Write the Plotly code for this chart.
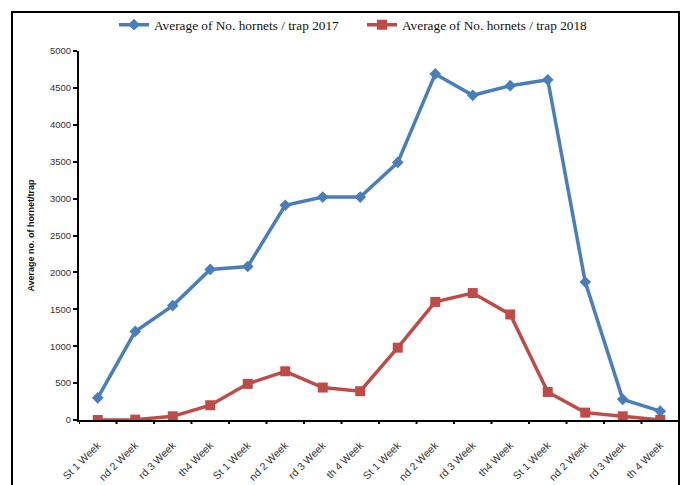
import plotly.graph_objects as go

# Weekly categories (four weeks per month, four months)
weeks = ["St 1 Week", "nd 2 Week", "rd 3 Week", "th4 Week",
         "St 1 Week", "nd 2 Week", "rd 3 Week", "th 4 Week",
         "St 1 Week", "nd 2 Week", "rd 3 Week", "th4 Week",
         "St 1 Week", "nd 2 Week", "rd 3 Week", "th 4 Week"]
x_idx = list(range(len(weeks)))

hornets_2017 = [300, 1200, 1550, 2040, 2080, 2910, 3020, 3020,
                3490, 4690, 4400, 4530, 4610, 1870, 280, 120]
hornets_2018 = [0, 5, 50, 200, 490, 660, 440, 390,
                980, 1600, 1720, 1430, 380, 100, 50, 0]

y_ticks = [0, 500, 1000, 1500, 2000, 2500, 3000, 3500, 4000, 4500, 5000]

BLUE = "#4A7EBB"
RED = "#BE4B48"

fig = go.Figure()
fig.add_trace(go.Scatter(
    x=x_idx, y=hornets_2017, mode="lines+markers",
    name="Average of No. hornets / trap 2017",
    line=dict(color=BLUE, width=3.5),
    marker=dict(symbol="diamond", size=9, color=BLUE),
))
fig.add_trace(go.Scatter(
    x=x_idx, y=hornets_2018, mode="lines+markers",
    name="Average of No. hornets / trap 2018",
    line=dict(color=RED, width=3.5),
    marker=dict(symbol="square", size=10, color=RED),
))

W, H = 683, 485
L, R, T, B = 79, 4, 51, 65
pw, ph = W - L - R, H - T - B

def px_x(p):
    return (p - L) / pw

def px_y(p):
    return (H - B - p) / ph

# Outer frame around the whole chart
fig.add_shape(type="rect", xref="paper", yref="paper",
              x0=px_x(12), x1=px_x(679), y0=px_y(495), y1=px_y(12),
              line=dict(color="black", width=2), fillcolor="rgba(0,0,0,0)",
              layer="above")

fig.update_layout(
    width=W, height=H,
    margin=dict(l=L, r=R, t=T, b=B, autoexpand=False),
    paper_bgcolor="white", plot_bgcolor="white",
    showlegend=True,
    legend=dict(orientation="h", x=px_x(114), xanchor="left",
                y=px_y(25), yanchor="middle",
                font=dict(family="Liberation Serif", size=13.3, color="#111"),
                itemwidth=30, entrywidth=203, entrywidthmode="pixels",
                tracegroupgap=0, bgcolor="rgba(0,0,0,0)"),
    font=dict(family="Liberation Sans", size=9, color="#333"),
    xaxis=dict(
        range=[-0.5, len(weeks) - 0.5], automargin=False,
        tickmode="array", tickvals=x_idx, ticktext=weeks,
        tickangle=-45, showgrid=False, zeroline=False,
        showline=True, linecolor="black", linewidth=2,
        ticks="outside", ticklen=13, tickcolor="rgba(0,0,0,0)", tickwidth=1,
        tickfont=dict(family="Liberation Sans", size=10.5, color="#333"),
    ),
    yaxis=dict(
        range=[0, 5000], tickvals=y_ticks, automargin=False,
        showgrid=False, zeroline=False,
        showline=True, linecolor="black", linewidth=2,
        ticks="outside", ticklen=4, tickcolor="black", tickwidth=2,
        tickfont=dict(family="Liberation Sans", size=9.5, color="#333"),
        title=dict(text="<b>Average no. of hornet/trap</b>",
                   font=dict(family="Liberation Sans", size=9, color="#111"),
                   standoff=14),
    ),
)

# tick marks placed at category boundaries on the x axis
for i in range(len(weeks) + 1):
    fig.add_shape(type="line", xref="x", yref="paper",
                  x0=i - 0.5, x1=i - 0.5, y0=0, y1=-4 / ph,
                  line=dict(color="black", width=2))

fig.write_html("out.html")
